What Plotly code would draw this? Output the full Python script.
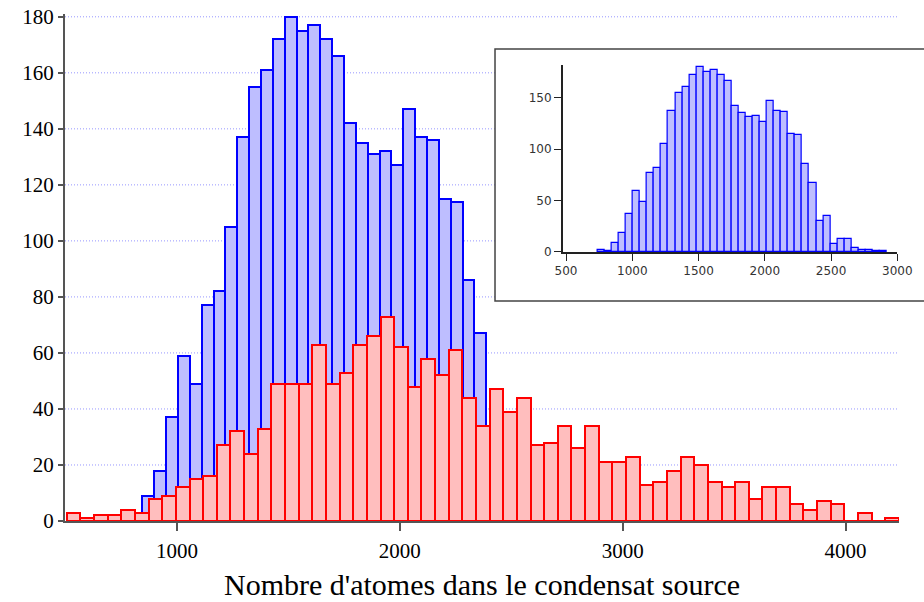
import plotly.graph_objects as go

# Histogram data (bin start, bin width, counts)
blue_start = 739.0
blue_width = 53.2
blue_counts = [2, 1, 9, 18, 37, 59, 49, 77, 82, 105, 137, 155, 161, 172, 180, 175, 177,
               172, 166, 142, 135, 131, 132, 127, 147, 137, 136, 115, 114, 86, 67, 30,
               35, 8, 13, 13, 4, 2, 2, 1, 1]

red_start = 506.0
red_width = 61.2
red_counts = [3, 1, 2, 2, 4, 3, 8, 9, 12, 15, 16, 27, 32, 24, 33, 49, 49, 49, 63, 49, 53,
              63, 66, 73, 62, 48, 58, 52, 61, 44, 34, 47, 39, 44, 27, 28, 34, 26, 34, 21,
              21, 23, 13, 14, 18, 23, 20, 14, 12, 14, 8, 12, 12, 6, 4, 7, 6, 0, 3, 0, 1]

main_xticks = [1000, 2000, 3000, 4000]
main_yticks = [0, 20, 40, 60, 80, 100, 120, 140, 160, 180]
inset_xticks = [500, 1000, 1500, 2000, 2500, 3000]
inset_yticks = [0, 50, 100, 150]
x_title = "Nombre d'atomes dans le condensat source"


def centers(start, width, n):
    return [start + width * (i + 0.5) for i in range(n)]


BLUE_FILL = "rgb(190,190,255)"
BLUE_LINE = "rgb(0,0,255)"
RED_FILL = "rgb(255,190,190)"
RED_LINE = "rgb(255,0,0)"

fig = go.Figure()
fig.add_trace(go.Bar(x=centers(blue_start, blue_width, len(blue_counts)), y=blue_counts,
                     width=blue_width, marker=dict(color=BLUE_FILL, line=dict(color=BLUE_LINE, width=2)),
                     xaxis="x", yaxis="y", showlegend=False, hoverinfo="skip"))
fig.add_trace(go.Bar(x=centers(red_start, red_width, len(red_counts)), y=red_counts,
                     width=red_width, marker=dict(color=RED_FILL, line=dict(color=RED_LINE, width=2)),
                     xaxis="x", yaxis="y", showlegend=False, hoverinfo="skip"))
fig.add_trace(go.Bar(x=centers(blue_start, blue_width, len(blue_counts)), y=blue_counts,
                     width=blue_width, marker=dict(color=BLUE_FILL, line=dict(color=BLUE_LINE, width=1.2)),
                     xaxis="x2", yaxis="y2", showlegend=False, hoverinfo="skip"))

shapes = []
for v in main_yticks[1:]:
    shapes.append(dict(type="line", xref="paper", yref="y", x0=0, x1=1, y0=v, y1=v,
                       line=dict(color="rgb(150,150,255)", width=1, dash="1px,2px"), layer="below"))
# inset frame
shapes.append(dict(type="rect", xref="paper", yref="paper", x0=0.5156, x1=1.06, y0=0.4339, y1=0.931,
                   line=dict(color="#444", width=1.5), fillcolor="white", layer="below"))

serif = "Liberation Serif"
sans = "DejaVu Sans"

fig.update_layout(
    width=924, height=602,
    margin=dict(l=65, r=25, t=14, b=81, autoexpand=False),
    paper_bgcolor="white", plot_bgcolor="white",
    barmode="overlay", bargap=0,
    shapes=shapes,
    xaxis=dict(range=[498, 4240], tickvals=main_xticks, ticks="outside", ticklen=8, tickwidth=1.5,
               tickcolor="#555", showline=True, linecolor="#555", linewidth=2, showgrid=False,
               zeroline=False, tickfont=dict(family=serif, size=21, color="black"),
               ticklabelstandoff=2, ticklabeloverflow="allow", automargin=False,
               anchor="y", domain=[0, 1]),
    yaxis=dict(range=[0, 181], tickvals=main_yticks, ticks="outside", ticklen=5, tickwidth=1.5,
               tickcolor="#555", showline=True, linecolor="#555", linewidth=2, showgrid=False,
               zeroline=False, tickfont=dict(family=serif, size=21, color="black"),
               ticklabeloverflow="allow", automargin=False, anchor="x", domain=[0, 1]),
    xaxis2=dict(range=[475, 3000], tickvals=inset_xticks, ticks="outside", ticklen=7, tickwidth=1,
                tickcolor="#222", showline=True, linecolor="#222", linewidth=1.5, showgrid=False,
                zeroline=False, tickfont=dict(family=sans, size=12, color="#333"),
                ticklabeloverflow="allow", automargin=False,
                anchor="y2", domain=[0.5968, 0.998]),
    yaxis2=dict(range=[0, 182], tickvals=inset_yticks, ticks="outside", ticklen=7, tickwidth=1,
                tickcolor="#222", showline=True, linecolor="#222", linewidth=1.5, showgrid=False,
                zeroline=False, tickfont=dict(family=sans, size=12, color="#333"),
                ticklabeloverflow="allow", automargin=False,
                anchor="x2", domain=[0.5306, 0.8994]),
    annotations=[dict(text=x_title, xref="paper", yref="paper", x=0.5, y=-0.126,
                      xanchor="center", yanchor="middle", showarrow=False,
                      font=dict(family=serif, size=30, color="black"))],
)

fig.write_html("out.html", config={"displayModeBar": False},
               post_script="document.body.style.margin='0';document.body.style.overflow='hidden';")
